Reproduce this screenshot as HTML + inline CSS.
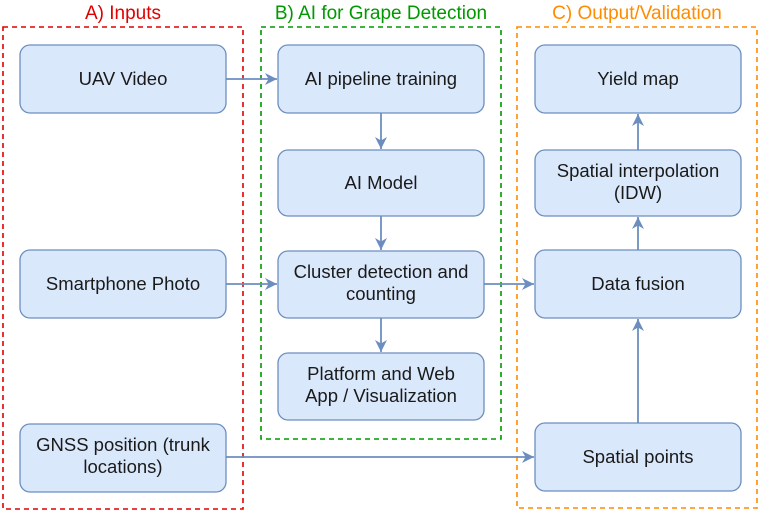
<!DOCTYPE html>
<html><head><style>
body{margin:0;background:#fff;}
</style></head><body>
<svg width="762" height="512" xmlns="http://www.w3.org/2000/svg" font-family="Liberation Sans, sans-serif">
<defs><marker id="a" markerWidth="14" markerHeight="14" refX="12" refY="6" orient="auto" markerUnits="userSpaceOnUse"><path d="M0,0 L12,6 L0,12 L3.5,6 z" fill="#6c8ebf"/></marker></defs>
<g font-size="19" text-anchor="middle">
<text x="123" y="19" fill="#e00000">A) Inputs</text>
<text x="381" y="19" fill="#009900">B) AI for Grape Detection</text>
<text x="637" y="19" fill="#ff8c00">C) Output/Validation</text>
</g>
<g fill="none" stroke-width="1.6" stroke-dasharray="5,4">
<rect x="3" y="27" width="240" height="482" stroke="#e00000"/>
<rect x="261" y="27" width="240" height="412" stroke="#009900"/>
<rect x="517" y="27" width="240" height="481" stroke="#ff8c00"/>
</g>
<g fill="#dae8fc" stroke="#6c8ebf" stroke-width="1.3">
<rect x="20" y="45" width="206" height="68" rx="10"/>
<rect x="20" y="250" width="206" height="68" rx="10"/>
<rect x="20" y="424" width="206" height="68" rx="10"/>
<rect x="278" y="45" width="206" height="68" rx="10"/>
<rect x="278" y="150" width="206" height="66" rx="10"/>
<rect x="278" y="251" width="206" height="67" rx="10"/>
<rect x="278" y="353" width="206" height="67" rx="10"/>
<rect x="535" y="45" width="206" height="68" rx="10"/>
<rect x="535" y="150" width="206" height="66" rx="10"/>
<rect x="535" y="250" width="206" height="68" rx="10"/>
<rect x="535" y="423" width="206" height="68" rx="10"/>
</g>
<g stroke="#6c8ebf" stroke-width="1.8" fill="none" marker-end="url(#a)">
<line x1="226" y1="79" x2="277" y2="79"/>
<line x1="226" y1="284" x2="277" y2="284"/>
<line x1="226" y1="457" x2="534" y2="457"/>
<line x1="484" y1="284" x2="534" y2="284"/>
<line x1="381" y1="113" x2="381" y2="149"/>
<line x1="381" y1="216" x2="381" y2="250"/>
<line x1="381" y1="318" x2="381" y2="352"/>
<line x1="638" y1="423" x2="638" y2="319"/>
<line x1="638" y1="250" x2="638" y2="217"/>
<line x1="638" y1="150" x2="638" y2="114"/>
</g>
<g font-size="18.5" text-anchor="middle" fill="#1a1a1a">
<text x="123" y="85">UAV Video</text>
<text x="123" y="290">Smartphone Photo</text>
<text x="123" y="451">GNSS position (trunk</text>
<text x="123" y="473">locations)</text>
<text x="381" y="85">AI pipeline training</text>
<text x="381" y="189">AI Model</text>
<text x="381" y="278">Cluster detection and</text>
<text x="381" y="300">counting</text>
<text x="381" y="380">Platform and Web</text>
<text x="381" y="402">App / Visualization</text>
<text x="638" y="85">Yield map</text>
<text x="638" y="177">Spatial interpolation</text>
<text x="638" y="199">(IDW)</text>
<text x="638" y="290">Data fusion</text>
<text x="638" y="463">Spatial points</text>
</g>
</svg>
</body></html>
